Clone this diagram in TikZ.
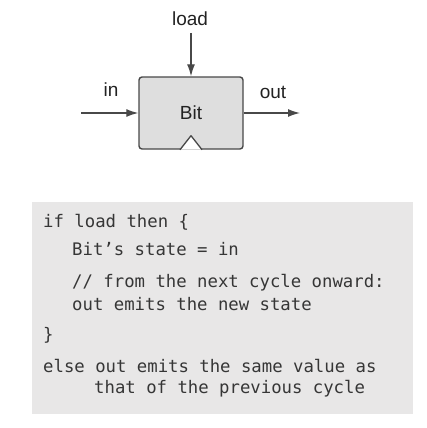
\documentclass[tikz,border=0pt]{standalone}
\usepackage{fontspec}
\setmainfont{Liberation Sans}
\setmonofont{DejaVu Sans Mono}
\usetikzlibrary{arrows.meta}
\definecolor{boxgray}{HTML}{DEDEDE}
\definecolor{codegray}{HTML}{E8E7E7}
\definecolor{linegray}{HTML}{484848}
\definecolor{textgray}{HTML}{363636}
\definecolor{labelgray}{HTML}{222222}
\tikzset{
  chip/.style={draw=linegray,line width=1.4pt,fill=boxgray,rounded corners=3pt,
    minimum width=104pt,minimum height=72pt,inner sep=0pt},
  wire/.style={draw=linegray,line width=1.3pt,-{Latex[length=12pt,width=8pt]}},
  pin/.style={font=\fontsize{19}{22}\selectfont,text=labelgray,inner sep=0pt},
  code/.style={anchor=base west,inner sep=0pt,
    font=\ttfamily\fontsize{17.3}{20}\selectfont,text=textgray}
}
\begin{document}
\begin{tikzpicture}[x=1pt,y=-1pt]
    \useasboundingbox (0,0) rectangle (427,428);
    % the Bit chip
    \node[chip,pin] (bit) at (191,113) {Bit};
    \draw[linegray,line width=1.3pt,fill=white,line join=round]
      ([xshift=-11pt]bit.south) -- ([yshift=14pt]bit.south) -- ([xshift=11pt]bit.south);
    \node[pin] (load) at (190,19) {load};
    \node[pin] (in)   at (111,90) {in};
    \node[pin] (out)  at (273,92) {out};
    \coordinate (ldtop) at (191,33);
    \coordinate (inL)   at (81,113);
    \coordinate (outR)  at (300,113);
    \draw[wire] (ldtop) -- (bit.north);
    \draw[wire] (inL) -- (bit.west);
    \draw[wire] (bit.east) -- (outR);
    % the behaviour
    \fill[codegray] (32,202) rectangle (413,414);
    \node[code] (l1) at (43,227) {if load then \{};
    \node[code] (l2) at (72,255) {Bit’s state = in};
    \node[code] (l3) at (72,287) {// from the next cycle onward:};
    \node[code] (l4) at (72,310) {out emits the new state};
    \node[code] (l5) at (43,340) {\}};
    \node[code] (l6) at (43,372) {else out emits the same value as};
    \node[code] (l7) at (94,393) {that of the previous cycle};
\end{tikzpicture}
\end{document}
